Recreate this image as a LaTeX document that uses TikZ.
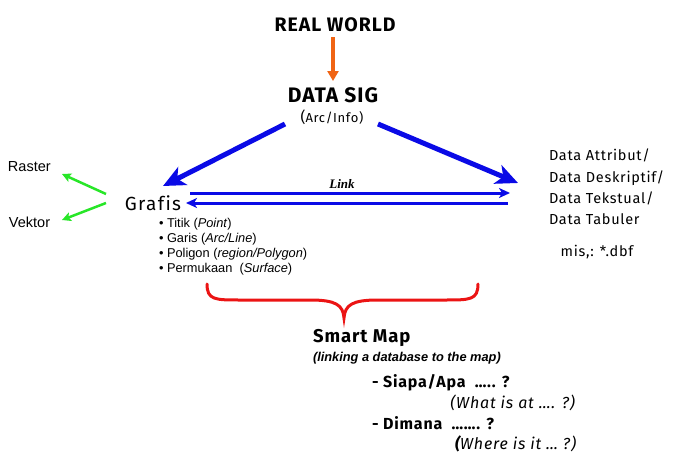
\documentclass[tikz,border=0pt]{standalone}
\usepackage{fontspec}
\setmainfont{Liberation Sans}
\newfontfamily\comic[Ligatures=NoCommon,LetterSpace=5]{Fira Sans}
\newfontfamily\serifb{Liberation Serif}
\usetikzlibrary{arrows.meta}
\definecolor{myblue}{RGB}{10,10,230}
\definecolor{myorange}{RGB}{240,100,20}
\definecolor{mygreen}{RGB}{40,230,40}
\definecolor{myred}{RGB}{235,20,20}
\begin{document}
\begin{tikzpicture}[x=1pt,y=-1pt,
  every node/.style={inner sep=0pt,outer sep=0pt},
  comictxt/.style={font=\comic\fontsize{14.5}{16}\selectfont},
  arialtxt/.style={font=\fontsize{14.5}{16}\selectfont},
  bluearrow/.style={draw=myblue,line width=5pt,-{Stealth[length=22pt,width=20pt,inset=6pt]}},
  linkarrow/.style={draw=myblue,line width=3pt,-{Stealth[length=11pt,width=10pt,inset=3pt]}},
  greenarrow/.style={draw=mygreen,line width=2.5pt,-{Stealth[length=9pt,width=9pt,inset=2pt]}},
]
\useasboundingbox (0,0) rectangle (673,463);
\node[font=\comic\bfseries\fontsize{19.5}{21}\selectfont] (rw) at (335,25) {REAL WORLD};
\node[font=\comic\bfseries\fontsize{21}{23}\selectfont] (ds) at (333,95) {DATA SIG};
\node[font=\comic\fontsize{15}{16}\selectfont] (arc) at (332,117) {(\fontsize{13}{14}\selectfont Arc/Info)};
\draw[draw=myorange,line width=4pt,-{Triangle[length=10pt,width=11pt]}] (rw.south)++(-2,5) coordinate (o1) -- (333,81) coordinate (o2);
\node[font=\comic\addfontfeature{LetterSpace=7}\fontsize{19}{21}\selectfont] (gr) at (153,203) {Grafis};
\node[arialtxt,anchor=west] (ra) at (8,167) {Raster};
\node[arialtxt,anchor=west] (ve) at (9,222) {Vektor};
\coordinate (g1) at (106,194);
\coordinate (g2) at (106,203);
\coordinate (r1) at (62,174);
\coordinate (v1) at (62,220);
\draw[greenarrow] (g1) -- (r1);
\draw[greenarrow] (g2) -- (v1);
\coordinate (bl1) at (285,124);
\coordinate (bl2) at (163,186);
\coordinate (br1) at (378,124);
\coordinate (br2) at (518,183);
\draw[bluearrow] (bl1) -- (bl2);
\draw[bluearrow] (br1) -- (br2);
\coordinate (la) at (190,193);
\coordinate (lb) at (510,193);
\coordinate (lc) at (508,203);
\coordinate (ld) at (186,203);
\draw[linkarrow] (la) -- (lb);
\draw[linkarrow] (lc) -- (ld);
\node[font=\serifb\bfseries\itshape\fontsize{13}{15}\selectfont] (lk) at (342,184) {Link};
\node[anchor=north west,align=left,font=\fontsize{12.8}{15}\selectfont] (bul) at (159,218) {%
\textbullet\ Titik (\textit{Point})\\
\textbullet\ Garis (\textit{Arc/Line})\\
\textbullet\ Poligon (\textit{region/Polygon})\\
\textbullet\ Permukaan\ \ (\textit{Surface})};
\node[comictxt,anchor=north west,align=left,font=\comic\fontsize{14.5}{21.3}\selectfont] (da) at (549,149) {%
Data Attribut/\\Data Deskriptif/\\Data Tekstual/\\Data Tabuler};
\node[comictxt] (mis) at (597,252) {mis,: *.dbf};
\draw[myred,line width=3pt,line cap=round] (207,284) .. controls (207,300) and (215,300) .. (240,300) -- (310,300) .. controls (336,300) and (343,305) .. (344,318) .. controls (345,305) and (352,300) .. (378,300) -- (445,300) .. controls (470,300) and (478,300) .. (478,284);
\coordinate (braceTip) at (344,318);
\node[anchor=west,font=\comic\bfseries\fontsize{18.5}{20}\selectfont] (sm) at (313,338) {Smart Map};
\node[anchor=west,font=\bfseries\itshape\fontsize{12.8}{14}\selectfont] (lnk) at (313,358) {(linking a database to the map)};
\node[anchor=west,font=\comic\bfseries\fontsize{16}{18}\selectfont] (q1) at (372,383) {- Siapa/Apa \ ….. ?};
\node[anchor=east,font=\comic\itshape\fontsize{16}{18}\selectfont] (a1) at (575,403) {(What is at …. ?)};
\node[anchor=west,font=\comic\bfseries\fontsize{16}{18}\selectfont] (q2) at (372,423) {- Dimana \ ……. ?};
\node[anchor=west,font=\comic\itshape\fontsize{16}{18}\selectfont] (a2) at (455,444) {\textbf{(}Where is it … ?)};
\end{tikzpicture}
\end{document}
